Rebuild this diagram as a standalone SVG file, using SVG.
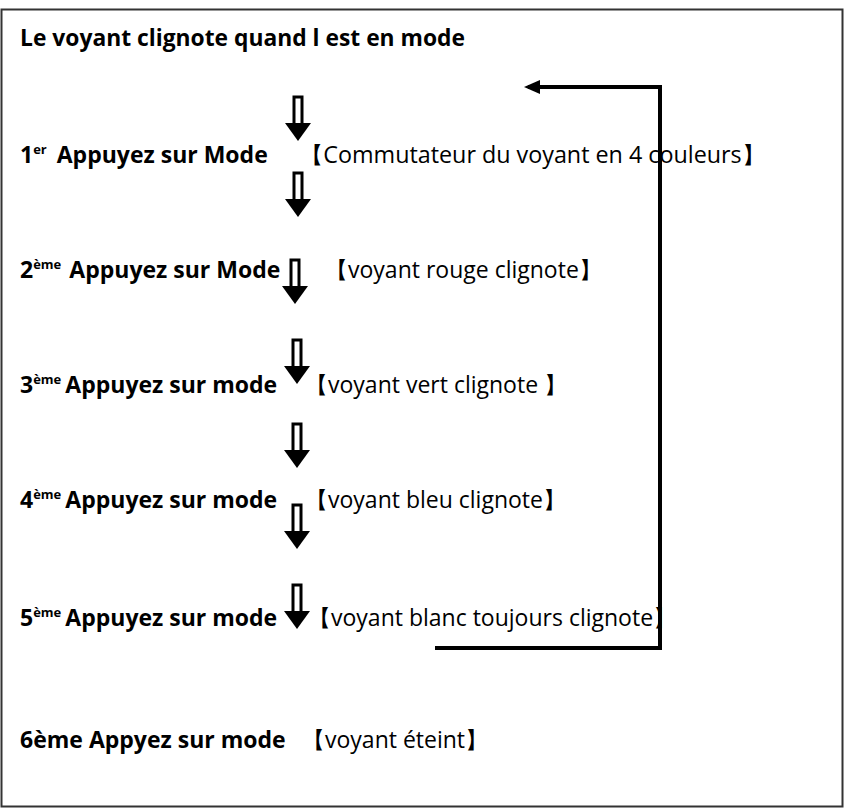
<svg xmlns="http://www.w3.org/2000/svg" width="845" height="809" viewBox="0 0 845 809">
<style>
.t{font-family:"Open Sans","Liberation Sans",sans-serif;font-weight:bold;font-size:23px;fill:#000}
.r{font-family:"Open Sans","Liberation Sans",sans-serif;font-size:23px;fill:#000}
.s{font-size:13px}
.ln{fill:none;stroke:#000;stroke-width:4}
</style>
<defs>
<symbol id="da" overflow="visible">
<rect x="-4" y="0" width="8" height="28" fill="#fff" stroke="#000" stroke-width="3"/>
<polygon points="-13,26 13,26 0,44" fill="#000"/>
</symbol>
<marker id="ah" markerWidth="16" markerHeight="14" refX="12" refY="7" orient="auto" markerUnits="userSpaceOnUse"><path d="M0,0 L16,7 L0,14 Z" fill="#000"/></marker>
</defs>
<rect x="1.5" y="9.5" width="841" height="797" fill="#fff" stroke="#333" stroke-width="2"/>
<g id="title"><text class="t" x="20" y="46" textLength="445" lengthAdjust="spacingAndGlyphs">Le voyant clignote quand l est en mode</text></g>
<g id="connectors">
<use href="#da" x="298" y="97"/>
<use href="#da" x="298" y="173"/>
<use href="#da" x="295" y="260"/>
<use href="#da" x="297" y="340"/>
<use href="#da" x="297" y="424"/>
<use href="#da" x="297" y="505"/>
<use href="#da" x="297" y="585"/>
<polyline class="ln" points="435,648 660,648 660,87 528,87" marker-end="url(#ah)"/>
</g>
<g id="step1"><text class="t" x="20" y="163">1<tspan class="s" dy="-9">er</tspan><tspan dy="9" dx="10">Appuyez sur Mode</tspan></text><text class="r" x="300" y="163" textLength="465" lengthAdjust="spacingAndGlyphs">【Commutateur du  voyant en 4 couleurs】</text></g>
<g id="step2"><text class="t" x="20" y="278">2<tspan class="s" dy="-9">ème</tspan><tspan dy="9" dx="8">Appuyez sur Mode</tspan></text><text class="r" x="325" y="278">【voyant rouge clignote】</text></g>
<g id="step3"><text class="t" x="20" y="393">3<tspan class="s" dy="-9">ème</tspan><tspan dy="9" dx="4">Appuyez sur mode</tspan></text><text class="r" x="305" y="393">【voyant vert clignote 】</text></g>
<g id="step4"><text class="t" x="20" y="508">4<tspan class="s" dy="-9">ème</tspan><tspan dy="9" dx="4">Appuyez sur mode</tspan></text><text class="r" x="305" y="508">【voyant bleu clignote】</text></g>
<g id="step5"><text class="t" x="20" y="626">5<tspan class="s" dy="-9">ème</tspan><tspan dy="9" dx="4">Appuyez sur mode</tspan></text><text class="r" x="308" y="626">【voyant blanc toujours clignote】</text></g>
<g id="step6"><text class="t" x="20" y="748">6ème Appyez sur mode</text><text class="r" x="302" y="748">【voyant éteint】</text></g>
</svg>
